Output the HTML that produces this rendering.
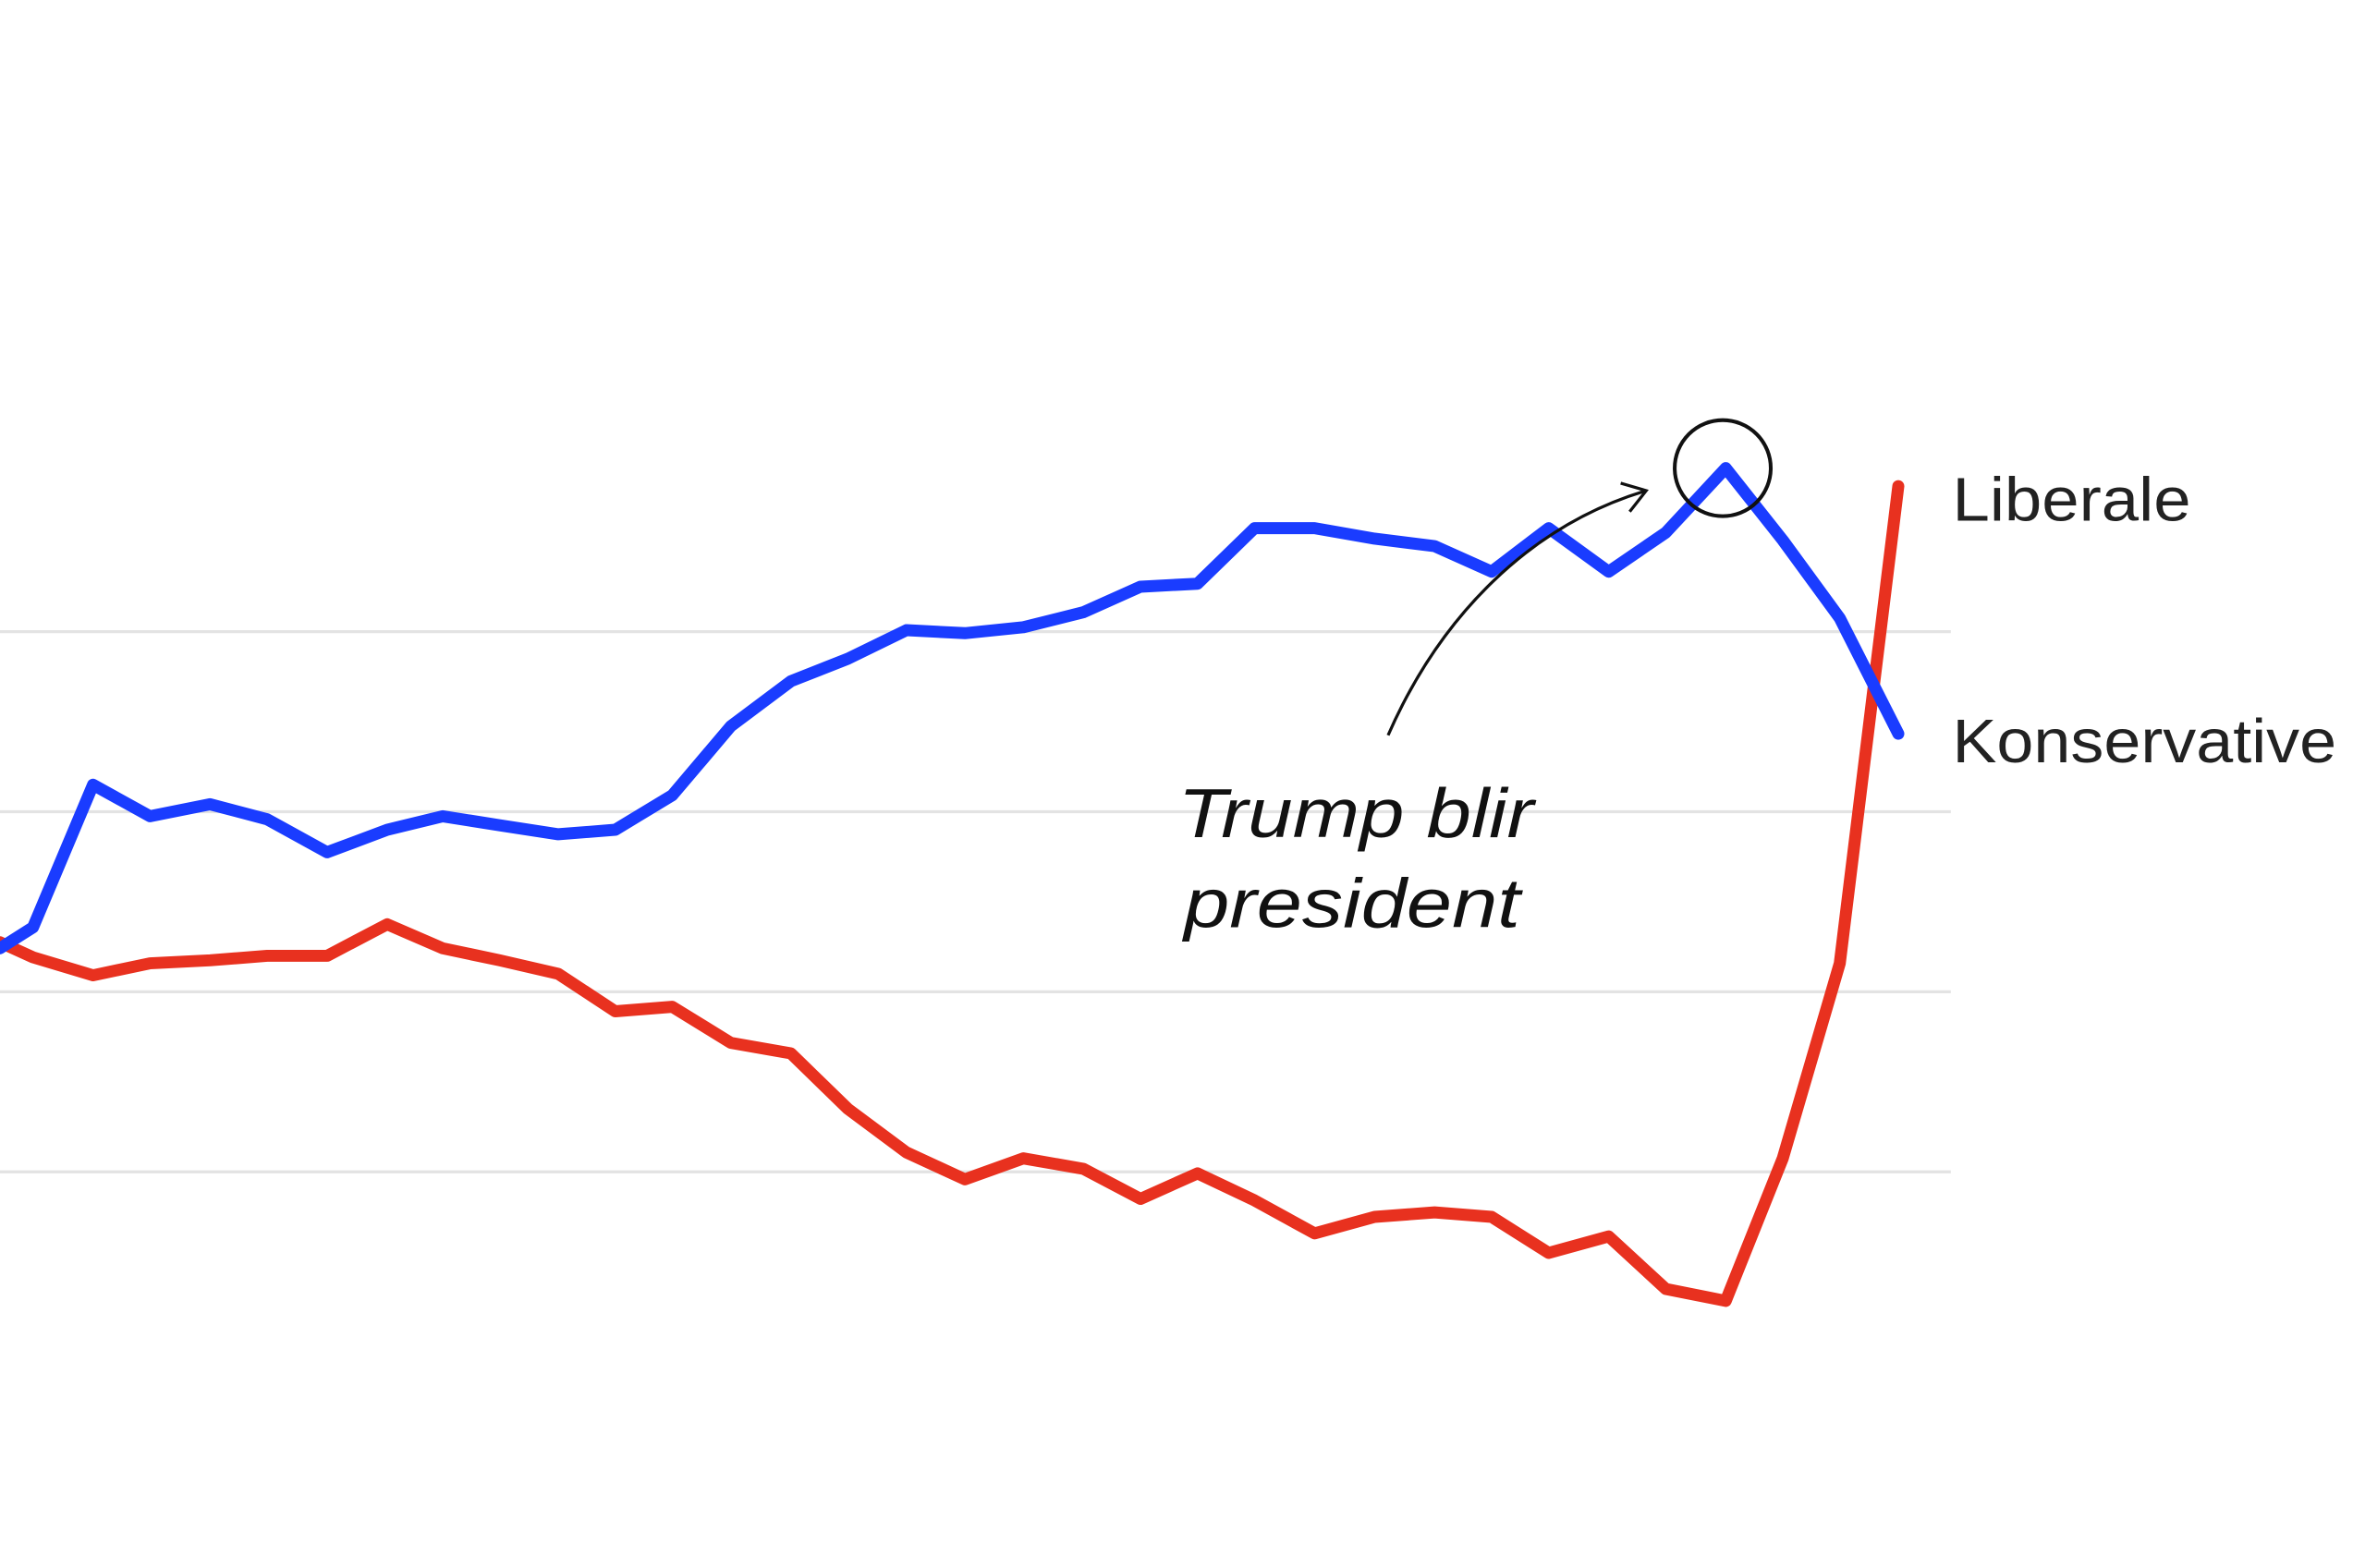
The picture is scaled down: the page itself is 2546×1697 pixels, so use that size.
<!DOCTYPE html>
<html><head><meta charset="utf-8"><style>
html,body{margin:0;padding:0;background:#fff;}
svg{display:block;}
</style></head><body>
<svg width="2546" height="1697" viewBox="0 0 1568 1045" preserveAspectRatio="none" xmlns="http://www.w3.org/2000/svg">
<rect width="1568" height="1045" fill="#fff"/>
<g stroke="#e3e3e3" stroke-width="2">
<line x1="0" y1="421" x2="1300" y2="421"/>
<line x1="0" y1="541" x2="1300" y2="541"/>
<line x1="0" y1="661" x2="1300" y2="661"/>
<line x1="0" y1="781" x2="1300" y2="781"/>
</g>
<polyline fill="none" stroke="#e8311f" stroke-width="8" stroke-linejoin="round" stroke-linecap="round" points="0,628 22,638 62,650 100,642 140,640 178,637 218,637 258,616 295,632 333,640 372,649 410,674 448,671 487,695 527,702 565,739 604,768 643,786 682,772 722,779 760,799 798,782 836,800 876,822 916,811 956,808 994,811 1032,835 1072,824 1110,859 1150,867 1188,772 1226,642 1265,324"/>
<polyline fill="none" stroke="#1a3cff" stroke-width="8" stroke-linejoin="round" stroke-linecap="round" points="0,632 22,618 62,523 100,544 140,536 178,546 218,568 258,553 295,544 333,550 372,556 410,553 448,530 487,484 527,454 565,439 604,420 643,422 682,418 722,408 760,391 798,389 836,352 876,352 916,359 956,364 994,381 1032,352 1072,381 1110,355 1150,312 1188,360 1226,412 1265,489"/>
<circle cx="1148" cy="312" r="32" fill="none" stroke="#111" stroke-width="2.5"/>
<path d="M925,490 C960,410 1020,350 1097,327" fill="none" stroke="#111" stroke-width="2"/>
<path d="M1080,322 L1097,327 L1086,341" fill="none" stroke="#111" stroke-width="2"/>
<g font-family="Liberation Sans, sans-serif" font-style="italic" font-size="46" fill="#111">
<text x="785" y="558" textLength="237" lengthAdjust="spacingAndGlyphs">Trump blir</text>
<text x="789" y="618" textLength="224" lengthAdjust="spacingAndGlyphs">president</text>
</g>
<g font-family="Liberation Sans, sans-serif" font-size="41" fill="#222">
<text x="1301" y="347" textLength="159" lengthAdjust="spacingAndGlyphs">Liberale</text>
<text x="1301" y="508" textLength="256" lengthAdjust="spacingAndGlyphs">Konservative</text>
</g>
</svg>
</body></html>
